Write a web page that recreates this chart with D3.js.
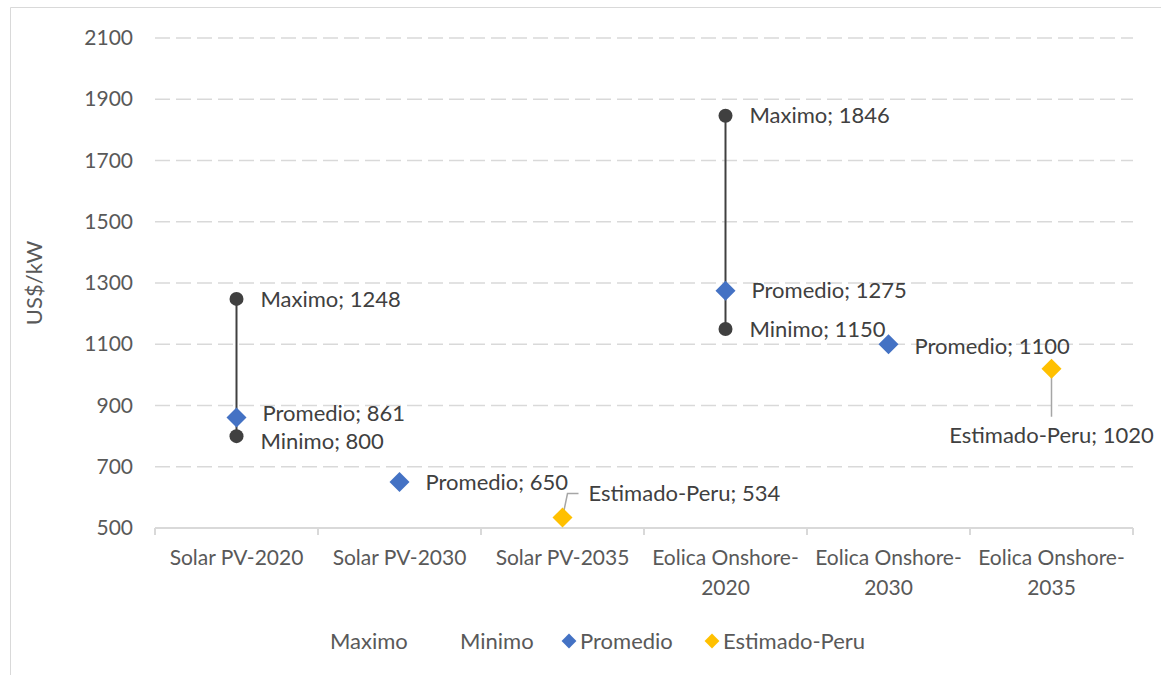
<!DOCTYPE html>
<html>
<head>
<meta charset="utf-8">
<script src="https://cdn.jsdelivr.net/npm/d3@7"></script>
<style>
	body { margin: 0; background: #fff; }
	text { font-family: Lato, "Open Sans", sans-serif; }
</style>
</head>
<body>
<div id="chart"></div>
<script>

const categories = [ "Solar PV-2020", "Solar PV-2030", "Solar PV-2035",
	"Eolica Onshore-2020", "Eolica Onshore-2030", "Eolica Onshore-2035" ];
const cat_lines = [ [ "Solar PV-2020" ], [ "Solar PV-2030" ], [ "Solar PV-2035" ],
	[ "Eolica Onshore-", "2020" ], [ "Eolica Onshore-", "2030" ], [ "Eolica Onshore-", "2035" ] ];

const maximo   = [ 1248, null, null, 1846, null, null ];
const minimo   = [ 800, null, null, 1150, null, null ];
const promedio = [ 861, 650, null, 1275, 1100, null ];
const estimado = [ null, null, 534, null, null, 1020 ];

const y_ticks = [ 500, 700, 900, 1100, 1300, 1500, 1700, 1900, 2100 ];

///////////////////////////////////////////////////////////////////////

const width = 1161, height = 675;
const margin = { left: 155, right: 28, top: 38, bottom: 147 };

const svg = d3.select( "#chart" )
	.append( "svg" )
	.attr( "width", width )
	.attr( "height", height );

// outer frame
svg.append( "path" )
	.attr( "d", "M10.5," + height + "V7.5H" + width )
	.attr( "fill", "none" )
	.attr( "stroke", "#d9d9d9" );

const x = d3.scaleBand()
	.domain( categories )
	.range( [ margin.left, width - margin.right ] )
	.padding( 0 );

const y = d3.scaleLinear()
	.domain( [ 500, 2100 ] )
	.range( [ height - margin.bottom, margin.top ] );

const cx = i => x( categories[ i ] ) + x.bandwidth() / 2;

// gridlines
svg.append( "g" )
	.selectAll( "line" )
	.data( y_ticks.slice( 1 ) )
	.join( "line" )
		.attr( "x1", margin.left )
		.attr( "x2", width - margin.right )
		.attr( "y1", d => y( d ) )
		.attr( "y2", d => y( d ) )
		.attr( "stroke", "#d9d9d9" )
		.attr( "stroke-width", 1.5 )
		.attr( "stroke-dasharray", "15,6" );

// y axis labels
const y_axis = svg.append( "g" )
	.attr( "transform", "translate(" + margin.left + ",0)" )
	.call( d3.axisLeft( y ).tickValues( y_ticks ).tickFormat( d3.format( "d" ) )
		.tickSize( 0 ).tickPadding( 22 ) );
y_axis.select( ".domain" ).remove();
y_axis.selectAll( "text" )
	.attr( "fill", "#595959" )
	.style( "font-size", "21px" );

svg.append( "text" )
	.attr( "transform", "translate(42," + y( 1300 ) + ") rotate(-90)" )
	.attr( "text-anchor", "middle" )
	.attr( "fill", "#595959" )
	.style( "font-size", "22px" )
	.text( "US$/kW" );

// x axis
const x_axis = svg.append( "g" )
	.attr( "transform", "translate(0," + y( 500 ) + ")" );
x_axis.append( "line" )
	.attr( "x1", margin.left ).attr( "x2", width - margin.right )
	.attr( "stroke", "#d9d9d9" ).attr( "stroke-width", 2 );
x_axis.selectAll( "line.tick" )
	.data( categories.map( c => x( c ) ).concat( [ width - margin.right ] ) )
	.join( "line" )
		.attr( "class", "tick" )
		.attr( "x1", d => d ).attr( "x2", d => d )
		.attr( "y1", 0 ).attr( "y2", 7 )
		.attr( "stroke", "#d9d9d9" ).attr( "stroke-width", 2 );
x_axis.selectAll( "text" )
	.data( cat_lines )
	.join( "text" )
		.attr( "text-anchor", "middle" )
		.attr( "fill", "#595959" )
		.style( "font-size", "21px" )
		.each( function( d, i ) {
			d3.select( this ).selectAll( "tspan" )
				.data( d )
				.join( "tspan" )
					.attr( "x", cx( i ) )
					.attr( "y", ( t, j ) => 37 + j * 30 )
					.text( t => t );
		} );

// max-min line
const dark = "#404040";
svg.append( "g" )
	.selectAll( "line" )
	.data( maximo.map( ( v, i ) => [ i, v, minimo[ i ] ] ).filter( d => d[ 1 ] != null ) )
	.join( "line" )
		.attr( "x1", d => cx( d[ 0 ] ) ).attr( "x2", d => cx( d[ 0 ] ) )
		.attr( "y1", d => y( d[ 1 ] ) ).attr( "y2", d => y( d[ 2 ] ) )
		.attr( "stroke", dark ).attr( "stroke-width", 2 );

// leader lines for Estimado-Peru labels
svg.append( "path" )
	.attr( "d", d3.line()( [ [ cx( 2 ), y( estimado[ 2 ] ) ], [ cx( 2 ) + 5, y( estimado[ 2 ] ) - 24 ], [ cx( 2 ) + 16, y( estimado[ 2 ] ) - 24 ] ] ) )
	.attr( "fill", "none" ).attr( "stroke", "#a6a6a6" ).attr( "stroke-width", 1.5 );
svg.append( "path" )
	.attr( "d", d3.line()( [ [ cx( 5 ), y( estimado[ 5 ] ) ], [ cx( 5 ), y( estimado[ 5 ] ) + 48 ] ] ) )
	.attr( "fill", "none" ).attr( "stroke", "#a6a6a6" ).attr( "stroke-width", 1.5 );

function points( vals, name )	{
	return vals.map( ( v, i ) => ( { i, v, name } ) ).filter( d => d.v != null );
}

// circles
svg.append( "g" )
	.selectAll( "circle" )
	.data( points( maximo, "Maximo" ).concat( points( minimo, "Minimo" ) ) )
	.join( "circle" )
		.attr( "cx", d => cx( d.i ) )
		.attr( "cy", d => y( d.v ) )
		.attr( "r", 7 )
		.attr( "fill", dark );

// diamonds
const diamond = d3.symbol().type( d3.symbolSquare ).size( 200 );
svg.append( "g" )
	.selectAll( "path" )
	.data( points( promedio, "Promedio" ).concat( points( estimado, "Estimado-Peru" ) ) )
	.join( "path" )
		.attr( "d", diamond )
		.attr( "transform", d => "translate(" + cx( d.i ) + "," + y( d.v ) + ") rotate(45)" )
		.attr( "fill", d => d.name == "Promedio" ? "#4472c4" : "#ffc000" );

// data labels: [ dx, dy, anchor ]
const label_offsets = {
	"Maximo":   [ [ 24, 0 ], null, null, [ 24, 0 ], null, null ],
	"Minimo":   [ [ 24, 5 ], null, null, [ 24, 0 ], null, null ],
	"Promedio": [ [ 26, -4 ], [ 26, 0 ], null, [ 26, 0 ], [ 26, 2 ], null ],
	"Estimado-Peru": [ null, null, [ 26, -24 ], null, null, [ 0, 67, "middle" ] ]
};
const all_points = points( maximo, "Maximo" ).concat( points( minimo, "Minimo" ),
	points( promedio, "Promedio" ), points( estimado, "Estimado-Peru" ) );
svg.append( "g" )
	.selectAll( "text" )
	.data( all_points )
	.join( "text" )
		.attr( "x", d => cx( d.i ) + label_offsets[ d.name ][ d.i ][ 0 ] )
		.attr( "y", d => y( d.v ) + label_offsets[ d.name ][ d.i ][ 1 ] )
		.attr( "dy", "0.35em" )
		.attr( "text-anchor", d => label_offsets[ d.name ][ d.i ][ 2 ] || "start" )
		.attr( "fill", dark )
		.style( "font-size", "22px" )
		.text( d => d.name + "; " + d.v );

// legend
const legend_items = [
	{ name: "Maximo", x: 330, marker: null },
	{ name: "Minimo", x: 460, marker: null },
	{ name: "Promedio", x: 580, marker: "#4472c4" },
	{ name: "Estimado-Peru", x: 723, marker: "#ffc000" }
];
const legend = svg.append( "g" ).attr( "transform", "translate(0,641)" );
legend.selectAll( "path" )
	.data( legend_items.filter( d => d.marker ) )
	.join( "path" )
		.attr( "d", d3.symbol().type( d3.symbolSquare ).size( 110 ) )
		.attr( "transform", d => "translate(" + ( d.x - 11 ) + ",0) rotate(45)" )
		.attr( "fill", d => d.marker );
legend.selectAll( "text" )
	.data( legend_items )
	.join( "text" )
		.attr( "x", d => d.x )
		.attr( "dy", "0.35em" )
		.attr( "fill", "#595959" )
		.style( "font-size", "22px" )
		.text( d => d.name );

</script>
</body>
</html>
